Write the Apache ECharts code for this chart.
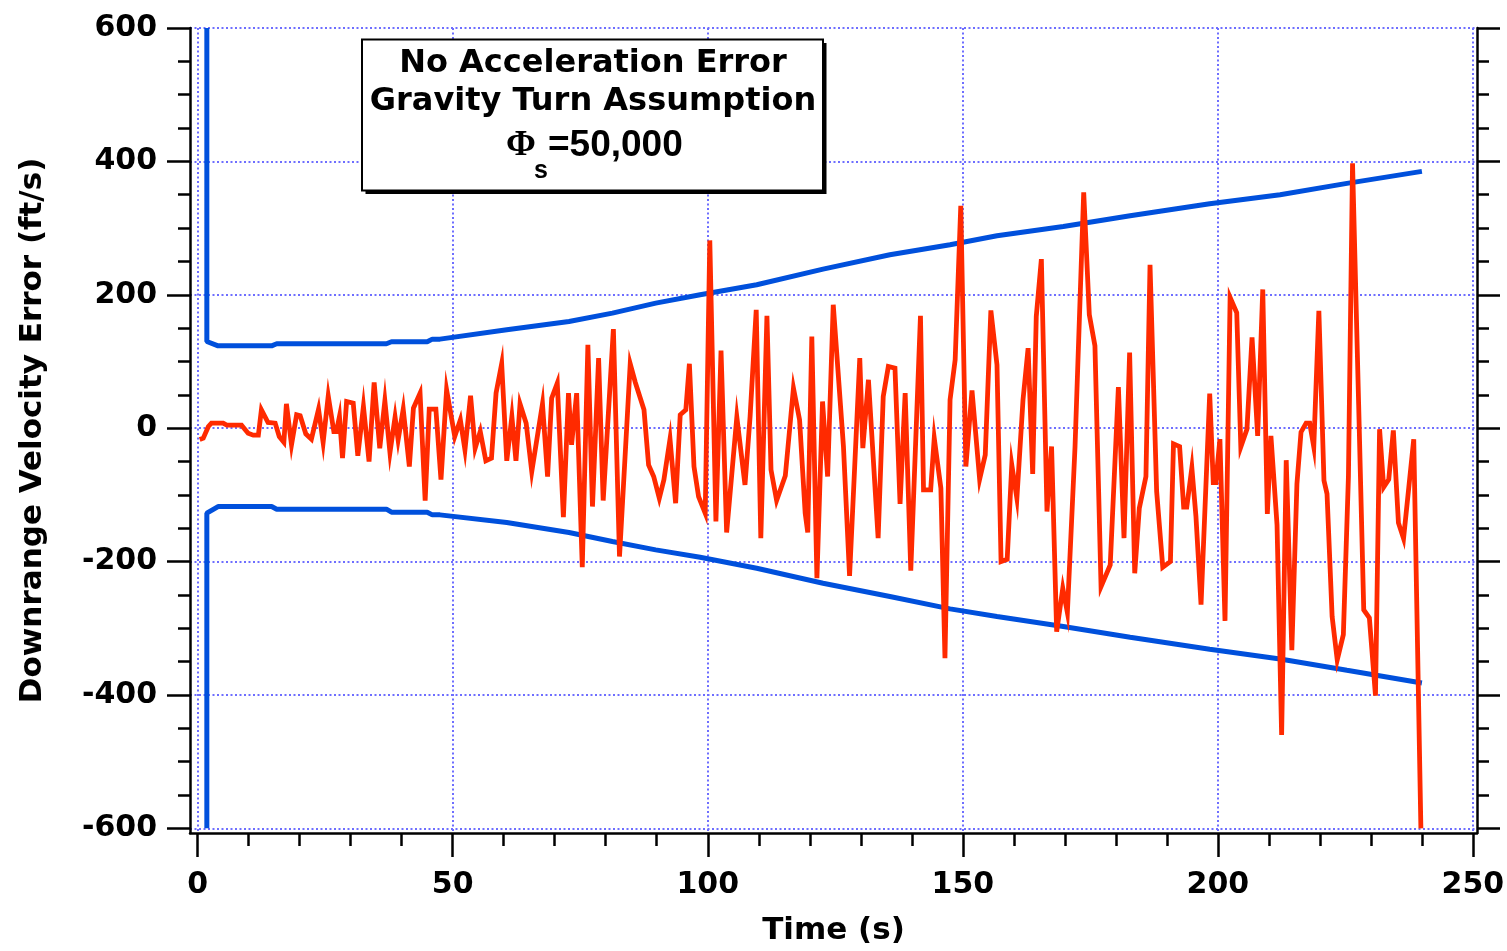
<!DOCTYPE html>
<html>
<head>
<meta charset="utf-8">
<title>Downrange Velocity Error</title>
<script src="https://cdn.jsdelivr.net/npm/echarts@6/dist/echarts.min.js"></script>
<style>
  html, body { margin: 0; padding: 0; background: #fff; }
  #chart { width: 1507px; height: 951px; }
</style>
</head>
<body>
<div id="chart"></div>
<script>
// measured error (red)
var errTime = [0.4, 1.1, 2.1, 2.7, 5.0, 5.7, 8.6, 9.9, 10.9, 11.9, 12.5, 13.8,
  15.2, 16.0, 16.9, 17.4, 18.4, 19.4, 20.1, 21.2, 22.3, 22.6, 23.7, 24.6,
  25.6, 26.7, 27.2, 27.8, 28.4, 29.2, 30.5, 31.4, 32.5, 33.6, 34.6, 35.7,
  36.7, 37.7, 38.7, 39.3, 40.3, 41.5, 42.3, 43.6, 44.6, 45.4, 46.7, 47.7,
  48.8, 50.4, 51.5, 52.4, 53.5, 54.4, 55.4, 56.5, 57.6, 58.5, 59.6, 60.6,
  61.6, 62.4, 63.2, 64.4, 65.5, 67.6, 68.6, 69.4, 70.5, 71.7, 72.7, 73.3,
  74.3, 75.4, 76.5, 77.4, 78.6, 79.5, 81.5, 82.7, 84.8, 85.8, 87.5, 88.4,
  89.4, 90.5, 91.4, 92.6, 93.7, 94.6, 95.7, 96.4, 97.3, 98.2, 99.5, 100.4,
  101.6, 102.6, 103.7, 105.7, 107.3, 108.3, 109.5, 110.4, 111.6, 112.4, 113.5, 115.2,
  116.8, 118.0, 119.1, 119.6, 120.4, 121.4, 122.5, 123.5, 124.6, 126.6, 127.8, 129.8,
  130.4, 131.5, 133.4, 134.4, 135.4, 136.7, 137.7, 138.7, 139.8, 141.7, 142.3, 143.7,
  144.4, 145.7, 146.5, 147.5, 148.5, 149.6, 150.6, 151.8, 153.3, 154.4, 155.5, 156.7,
  157.5, 158.7, 159.6, 160.6, 161.8, 162.8, 163.7, 164.4, 165.4, 166.5, 167.4, 168.4,
  169.6, 170.5, 172.0, 173.7, 174.8, 175.9, 177.1, 178.9, 180.5, 181.6, 182.7, 183.7,
  184.6, 185.9, 186.7, 188.0, 189.2, 190.7, 191.3, 192.5, 193.3, 193.9, 194.9, 195.7,
  196.7, 198.4, 199.1, 199.6, 200.4, 201.4, 202.4, 203.7, 204.5, 205.7, 206.7, 207.8,
  208.8, 209.7, 210.4, 211.6, 212.5, 213.4, 214.5, 215.5, 216.3, 217.3, 218.0, 218.8,
  219.8, 220.8, 221.4, 222.4, 223.4, 224.6, 225.6, 226.4, 227.6, 228.6, 229.7, 230.9,
  231.7, 232.5, 233.5, 234.4, 235.4, 236.4, 238.4, 239.8];
var errValue = [-17, -15, 2.5, 7.5, 7.5, 4.5, 4.5, -7.5, -10.5, -10.5, 27.5, 8.5,
  7.5, -12.5, -21, 36.5, -25, 20, 18.5, -8.5, -16.5, -16.5, 28.5, -21.5,
  48.5, -5, -5, 17.5, -45, 40, 37.5, -41.5, 32.5, -50, 68.5, -30,
  41, -36.5, 16.5, -17.5, 28.5, -57.5, 30, 52.5, -108.5, 28.5, 28.5, -77,
  57.5, -12.5, 12.5, -32.5, 48.5, -30, -5, -49, -45, 52.5, 96.5, -49,
  17.5, -49, 36.5, 7.5, -65, 36.5, -72.5, 45, 67.5, -133.5, 52.5, -25,
  52.5, -208.5, 125, -117.5, 105, -108.5, 148.5, -192.5, 96.5, 68.5, 27.5, -55,
  -72.5, -105, -77.5, -16.5, -112.5, 20, 27.5, 96.5, -57.5, -102.5, -127.5, 281.5,
  -140, 116.5, -156.5, 16.5, -85, 17.5, 177.5, -165, 168.5, -62.5, -108.5, -71.5,
  60, 12.5, -127.5, -156.5, 137.5, -225, 40, -72.5, 185, -27.5, -221.5, 105,
  -30, 72.5, -165, 47.5, 92.5, 90, -113.5, 52.5, -213.5, 168.5, -92.5, -92.5,
  -15, -90, -345, 42.5, 102.5, 333.5, -57.5, 56.5, -76.5, -40, 176.5, 95,
  -200, -196.5, -55, -105, 42.5, 120, -68.5, 167.5, 253.5, -125, -27.5, -305,
  -240, -276.5, -27.5, 353.5, 170, 123.5, -237.5, -205, 61.5, -165, 113.5, -217.5,
  -120, -72.5, 245, -95, -208.5, -200, -23.5, -27.5, -118.5, -118.5, -59.5, -132,
  -264.5, 52, -81.5, -81.5, -16.5, -289, 196, 173, -28, -1.5, 136, -11.5,
  208, -128.5, -11.5, -145, -460, -48, -333, -83.5, -6, 7.5, 7.5, -28,
  176, -78.5, -98.5, -282.5, -347.5, -309.5, -71.5, 397, 35.5, -272.5, -284.5, -401,
  -1.5, -88.5, -77, -3.5, -142, -165.5, -16.5, -600];

// theoretical bounds (blue)
var bandTime = [1.8, 1.8, 4, 14.5, 15.5, 37, 38, 45, 46, 47.5, 60.6, 72.8, 81.3,
  89.8, 98.5, 109.6, 122.6, 135.7, 147.5, 156.7, 169.7, 182.8, 198.4, 212.2, 225.3, 240];
var bandUpper = [600, 130, 123.5, 123.5, 126.5, 126.5, 129.5, 129.5, 133.5, 133.5, 147.5, 160, 172.5,
  187.5, 200, 215, 238.5, 260, 275, 288.5, 302.5, 318.5, 336.5, 350, 367, 385];
var bandLower = [-600, -127.5, -117.5, -117.5, -121.5, -121.5, -126, -126, -130, -130, -141.5, -156.5, -170,
  -182.5, -193.5, -210, -232.5, -252.5, -271, -282.5, -297.5, -313.5, -331.5, -346, -363, -382];

// ticks
var xMajor = [0, 50, 100, 150, 200, 250];
var xMinor = [10, 20, 30, 40, 60, 70, 80, 90, 110, 120, 130, 140, 160, 170, 180, 190, 210, 220, 230, 240];
var yMajor = [-600, -400, -200, 0, 200, 400, 600];
var yMinor = [-550, -500, -450, -350, -300, -250, -150, -100, -50, 50, 100, 150, 250, 300, 350, 450, 500, 550];

var FONT = 'DejaVu Sans';
var gridColor = '#6e6eff';
var xMin = -1.5, xMax = 250.8, yMin = -607, yMax = 600;

function pairs(xs, ys) {
  return xs.map(function (x, i) { return [x, ys[i]]; });
}

// an axis that only draws tick marks (used for minor ticks and the right frame)
function tickAxis(pos, min, max, values, len, showLine) {
  return {
    type: 'value', position: pos, min: min, max: max,
    axisLine: { show: showLine, onZero: false, lineStyle: { color: '#000', width: 2.5 } },
    axisTick: { show: true, customValues: values, length: len, lineStyle: { color: '#000', width: 2.5 } },
    axisLabel: { show: false },
    splitLine: { show: false }
  };
}

var myChart = echarts.init(document.getElementById('chart'), null, { renderer: 'canvas' });

var option = {
  animation: false,
  backgroundColor: '#fff',
  grid: { left: 190, right: 30, top: 28, bottom: 118, outerBoundsMode: 'none' },
  xAxis: [
    {
      type: 'value', position: 'bottom', min: xMin, max: xMax,
      name: 'Time (s)', nameLocation: 'middle', nameGap: 82,
      nameTextStyle: { color: '#000', fontFamily: FONT, fontWeight: 'bold', fontSize: 31 },
      axisLine: { show: true, onZero: false, lineStyle: { color: '#000', width: 2.5 } },
      axisTick: { show: true, customValues: xMajor, length: 24, lineStyle: { color: '#000', width: 2.5 } },
      axisLabel: { customValues: xMajor, margin: 37, color: '#000', fontFamily: FONT, fontWeight: 'bold', fontSize: 30 },
      splitLine: { show: true, lineStyle: { color: gridColor, width: 2, type: [2, 2.5] } }
    },
    tickAxis('bottom', xMin, xMax, xMinor, 13, false)
  ],
  yAxis: [
    {
      type: 'value', position: 'left', min: yMin, max: yMax,
      name: 'Downrange Velocity Error (ft/s)', nameLocation: 'middle', nameGap: 142,
      nameTextStyle: { color: '#000', fontFamily: FONT, fontWeight: 'bold', fontSize: 31 },
      axisLine: { show: true, onZero: false, lineStyle: { color: '#000', width: 2.5 } },
      axisTick: { show: true, customValues: yMajor, length: 23, lineStyle: { color: '#000', width: 2.5 } },
      axisLabel: { customValues: yMajor, margin: 33, color: '#000', fontFamily: FONT, fontWeight: 'bold', fontSize: 30 },
      splitLine: { show: true, lineStyle: { color: gridColor, width: 2, type: [2, 2.5] } }
    },
    tickAxis('left', yMin, yMax, yMinor, 12, false),
    tickAxis('right', yMin, yMax, yMajor, 23, true),
    tickAxis('right', yMin, yMax, yMinor, 12, false)
  ],
  series: [
    {
      name: 'upper', type: 'line', data: pairs(bandTime, bandUpper),
      showSymbol: false, clip: true,
      lineStyle: { color: '#0050dc', width: 5 }, z: 2
    },
    {
      name: 'lower', type: 'line', data: pairs(bandTime, bandLower),
      showSymbol: false, clip: true,
      lineStyle: { color: '#0050dc', width: 5 }, z: 2
    },
    {
      name: 'error', type: 'line', data: pairs(errTime, errValue),
      showSymbol: false, clip: true,
      lineStyle: { color: '#ff2a00', width: 4.8, join: 'miter' }, z: 3
    }
  ],
  graphic: [
    { type: 'rect', z: 100, shape: { x: 365.5, y: 43, width: 461, height: 151 }, style: { fill: '#000' } },
    { type: 'rect', z: 101, shape: { x: 362, y: 39.5, width: 461, height: 151 }, style: { fill: '#fff', stroke: '#000', lineWidth: 2 } },
    { type: 'text', z: 102, x: 593, y: 64, style: { text: 'No Acceleration Error', align: 'center', verticalAlign: 'middle', fill: '#000', font: 'bold 32px "DejaVu Sans"' } },
    { type: 'text', z: 102, x: 593, y: 102, style: { text: 'Gravity Turn Assumption', align: 'center', verticalAlign: 'middle', fill: '#000', font: 'bold 32px "DejaVu Sans"' } },
    { type: 'text', z: 102, x: 521, y: 146, style: { text: 'Φ', align: 'center', verticalAlign: 'middle', fill: '#000', font: 'bold 36px "Liberation Serif"' } },
    { type: 'text', z: 102, x: 541, y: 171, style: { text: 's', align: 'center', verticalAlign: 'middle', fill: '#000', font: 'bold 25px "Liberation Sans"' } },
    { type: 'text', z: 102, x: 548, y: 146, style: { text: '=50,000', align: 'left', verticalAlign: 'middle', fill: '#000', font: 'bold 37px "Liberation Sans"' } }
  ]
};

myChart.setOption(option);
window.addEventListener('resize', function () {
  myChart.resize();
});
</script>
</body>
</html>
